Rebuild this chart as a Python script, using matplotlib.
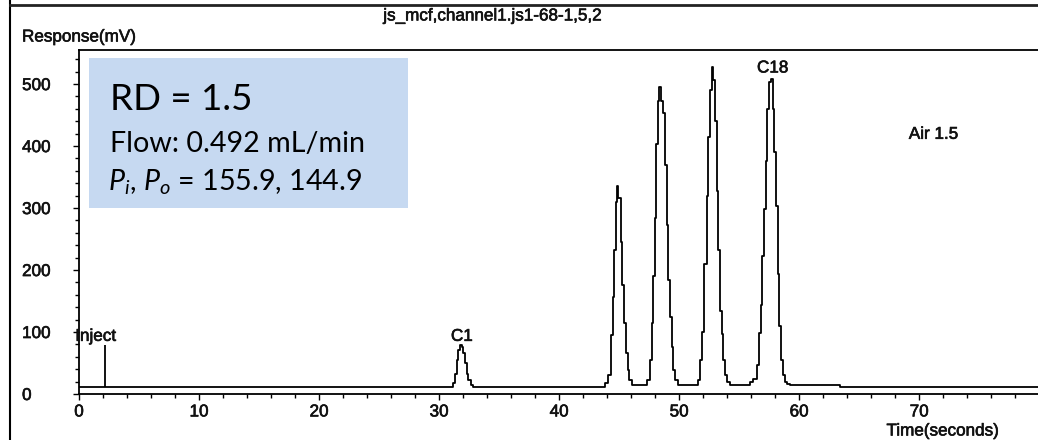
import matplotlib
matplotlib.use("Agg")
import matplotlib.pyplot as plt
import matplotlib.patheffects as pe
from matplotlib.lines import Line2D
from matplotlib.patches import Rectangle
from matplotlib.ticker import MultipleLocator

# trace: step start time (s) and response (mV)
lead_t = [0.0]
lead_mv = [11]

c1_t = [31.19, 31.33, 31.47, 31.6, 31.75, 31.89, 32.03, 32.17, 32.3, 32.44, 32.64, 32.86]
c1_mv = [17, 33, 55, 71, 79, 76, 66, 50, 33, 23, 15, 11]

p45_t = [43.83, 44.1, 44.3, 44.47, 44.58, 44.7, 44.8, 44.94, 45.14, 45.28, 45.4, 45.56,
         45.7, 45.86, 46.06]
p45_mv = [17, 31, 95, 157, 233, 309, 335, 317, 246, 176, 115, 66, 39, 23, 14]

p48_t = [47.31, 47.58, 47.75, 47.86, 47.97, 48.08, 48.22, 48.36, 48.5, 48.64, 48.83, 48.97,
         49.11, 49.25, 49.39, 49.53, 49.67, 49.94]
p48_mv = [23, 55, 115, 190, 284, 403, 473, 495, 473, 454, 370, 273, 184, 125, 76, 39, 23, 14]

p52_t = [51.61, 51.75, 51.94, 52.11, 52.31, 52.44, 52.58, 52.72, 52.86, 53.0, 53.14, 53.28,
         53.42, 53.56, 53.69, 53.83, 53.97, 54.25]
p52_mv = [23, 55, 100, 210, 320, 414, 490, 527, 506, 441, 328, 233, 134, 97, 55, 31, 20, 14]

p57_t = [55.92, 56.19, 56.47, 56.69, 56.83, 56.94, 57.08, 57.22, 57.36, 57.5, 57.64, 57.81,
         57.94, 58.08, 58.22, 58.36, 58.5, 58.64, 58.78, 58.97, 59.25]
p57_mv = [20, 25, 47, 98, 144, 222, 298, 376, 460, 503, 509, 460, 390, 303, 193, 109, 55,
          31, 20, 16, 14]

tail_t = [63.4, 79.9]
tail_mv = [11, 11]

inject_t = 2.17
inject_top = 79

peak_labels = ["Inject", "C1", "C18", "Air 1.5"]
label_pos = [(1.4, 93), (31.9, 93), (57.8, 526), (71.2, 419)]

W, H = 1038, 440
FS = 12.3
ink = [pe.withStroke(linewidth=0.45, foreground="#111111")]


def fx(x):
    return x / W


def fy(y):
    return 1 - y / H


plt.rcParams["font.family"] = ["Liberation Sans", "DejaVu Sans"]
plt.rcParams["mathtext.fontset"] = "custom"
plt.rcParams["mathtext.rm"] = "Lato"
plt.rcParams["mathtext.it"] = "Lato:italic"

fig = plt.figure(figsize=(W / 100, H / 100), dpi=100)
ax = fig.add_axes([fx(79), fy(394), 1 - fx(79), (394 - 50) / H])

t = lead_t + c1_t + p45_t + p48_t + p52_t + p57_t + tail_t
mv = lead_mv + c1_mv + p45_mv + p48_mv + p52_mv + p57_mv + tail_mv
ax.plot(t, mv, drawstyle="steps-post", color="black", lw=1.3)
ax.vlines(inject_t, lead_mv[0], inject_top, color="black", lw=1.3)

for txt, (x, y) in zip(peak_labels, label_pos):
    ax.text(x, y, txt, ha="center", va="center", fontsize=FS, color="#111111",
            path_effects=ink)

ax.set_xlim(0, 79.9)
ax.set_ylim(0, 555)
ax.spines["right"].set_visible(False)
for s in ["left", "bottom", "top"]:
    ax.spines[s].set_linewidth(1.3)

ax.xaxis.set_major_locator(MultipleLocator(10))
ax.xaxis.set_minor_locator(MultipleLocator(2))
ax.yaxis.set_major_locator(MultipleLocator(100))
ax.yaxis.set_minor_locator(MultipleLocator(20))
ax.tick_params(which="major", length=4.3, width=1, direction="out", labelsize=FS,
               labelcolor="#111111")
ax.tick_params(which="minor", length=3, width=1, direction="out")
ax.tick_params(axis="x", pad=3.2)
ax.tick_params(axis="y", pad=36.7)
for lab in ax.get_yticklabels() + ax.get_xticklabels():
    lab.set_path_effects(ink)
for lab in ax.get_yticklabels():
    lab.set_horizontalalignment("left")

# surrounding report frame
fig.add_artist(Line2D([fx(10), fx(10)], [0, 1], color="black", lw=1.5))
fig.add_artist(Line2D([fx(10), 1], [fy(5.5), fy(5.5)], color="#222222", lw=2))

fig.text(fx(493), fy(16), "js_mcf,channel1.js1-68-1,5,2", ha="center", va="center",
         fontsize=FS, color="#111111", path_effects=ink)
fig.text(fx(22), fy(37), "Response(mV)", ha="left", va="center", fontsize=FS,
         color="#111111", path_effects=ink)
fig.text(fx(943), fy(431), "Time(seconds)", ha="center", va="center", fontsize=FS,
         color="#111111", path_effects=ink)

# annotation box
fig.add_artist(Rectangle((fx(89), fy(208)), fx(408 - 89), (208 - 58) / H,
                         transform=fig.transFigure, facecolor="#C6D9F1", edgecolor="none"))
fig.text(fx(110), fy(110), "RD = 1.5", ha="left", va="baseline", fontsize=26.5,
         family="Lato", color="black")
fig.text(fx(110), fy(152), "Flow: 0.492 mL/min", ha="left", va="baseline", fontsize=20.6,
         family="Lato", color="black")
fig.text(fx(108), fy(190), r"$P_i$, $P_o$ = 155.9, 144.9", ha="left", va="baseline",
         fontsize=20.6, family="Lato", color="black")

fig.savefig("out.png", dpi=100)
